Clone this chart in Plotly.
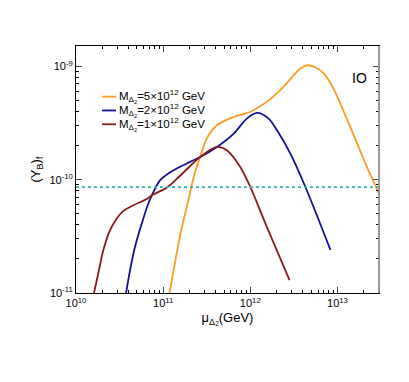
import numpy as np
import plotly.graph_objects as go

# log10 values
mu_5 = [11.00, 11.072, 11.195, 11.29, 11.36, 11.425, 11.50, 11.617, 11.81, 12.0, 12.21, 12.38, 12.575, 12.66, 12.75, 12.84, 12.95, 13.15, 13.34, 13.48]
yb_5 = [-11.26, -11.0, -10.49, -10.18, -9.95, -9.80, -9.637, -9.52, -9.447, -9.40, -9.30, -9.18, -9.018, -8.99, -9.01, -9.06, -9.19, -9.54, -9.89, -10.13]

mu_2 = [10.56, 10.575, 10.62, 10.678, 10.755, 10.83, 10.889, 10.966, 11.10, 11.31, 11.425, 11.617, 11.81, 11.96, 12.077, 12.21, 12.307, 12.46, 12.63, 12.92]
yb_2 = [-11.08, -11.0, -10.80, -10.59, -10.386, -10.21, -10.107, -10.004, -9.925, -9.843, -9.80, -9.711, -9.593, -9.461, -9.411, -9.461, -9.564, -9.77, -10.06, -10.62]

mu_1 = [10.19, 10.207, 10.256, 10.314, 10.391, 10.468, 10.544, 10.659, 10.813, 10.87, 11.04, 11.195, 11.425, 11.617, 11.73, 11.885, 12.0, 12.19, 12.45]
yb_1 = [-11.08, -11.0, -10.826, -10.621, -10.445, -10.342, -10.275, -10.225, -10.170, -10.137, -10.072, -9.965, -9.80, -9.711, -9.74, -9.887, -10.063, -10.416, -10.886]

yb_obs = 8.6e-11

labels = ["M<sub>Δ<sub>2</sub></sub>=5×10<sup>12</sup> GeV",
          "M<sub>Δ<sub>2</sub></sub>=2×10<sup>12</sup> GeV",
          "M<sub>Δ<sub>2</sub></sub>=1×10<sup>12</sup> GeV"]
colors = ["#FF9922", "#101099", "#8B1A1A"]

fig = go.Figure()

for mu, yb, c in zip([mu_5, mu_2, mu_1], [yb_5, yb_2, yb_1], colors):
    fig.add_trace(go.Scatter(x=10 ** np.array(mu), y=10 ** np.array(yb), mode="lines",
                             line=dict(color=c, width=1.8, shape="spline", smoothing=0.9),
                             showlegend=False))

fig.add_trace(go.Scatter(x=[1e10, 3e13], y=[yb_obs, yb_obs], mode="lines",
                         line=dict(color="#2AB5B0", width=1.8, dash="dot"), showlegend=False))

# hand-made legend
for i, (lab, c) in enumerate(zip(labels, colors)):
    yy = 0.795 - i * 0.056
    fig.add_shape(type="line", xref="paper", yref="paper", x0=0.086, x1=0.132, y0=yy, y1=yy,
                  line=dict(color=c, width=1.8))
    fig.add_annotation(xref="paper", yref="paper", x=0.136, y=yy, text=lab, showarrow=False,
                       xanchor="left", yanchor="middle", font=dict(size=11.5, color="black"))

fig.add_annotation(xref="paper", yref="paper", x=0.936, y=0.872, text="IO", showarrow=False,
                   xanchor="center", yanchor="middle", font=dict(size=14, color="black"))

# grey right frame edge as in the original
fig.add_shape(type="line", xref="paper", yref="paper", x0=1, x1=1, y0=0, y1=1,
              line=dict(color="#999999", width=2))

xmaj = [1e10, 1e11, 1e12, 1e13]
xlab = ["10<sup>10</sup>", "10<sup>11</sup>", "10<sup>12</sup>", "10<sup>13</sup>"]
ymaj = [1e-11, 1e-10, 1e-9]
ylab = ["10<sup>-11</sup>", "10<sup>-10</sup>", "10<sup>-9</sup>"]
xmin = [m * 10 ** k for k in range(10, 14) for m in range(2, 10)]
ymin = [m * 10 ** k for k in range(-11, -8) for m in range(2, 10)]

fig.update_xaxes(type="log", range=[10, np.log10(3e13)], tickvals=xmaj, ticktext=xlab,
                 ticks="inside", ticklen=6, showline=True, linecolor="black", linewidth=1,
                 mirror="ticks", showgrid=False, zeroline=False,
                 minor=dict(tickvals=xmin, ticks="inside", ticklen=3, tickcolor="black"),
                 title=dict(text="μ<sub>Δ<sub>2</sub></sub>(GeV)", standoff=4, font=dict(size=13)))
fig.update_yaxes(type="log", range=[-11, -8.82], tickvals=ymaj, ticktext=ylab,
                 ticks="inside", ticklen=6, showline=True, linecolor="black", linewidth=1,
                 mirror="ticks", showgrid=False, zeroline=False,
                 minor=dict(tickvals=ymin, ticks="inside", ticklen=3, tickcolor="black"),
                 title=dict(text="(Y<sub>B</sub>)<sub>f</sub>", standoff=5, font=dict(size=13)))

# page body adds an 8px margin, so margins are offset by it
fig.update_layout(width=409, height=382, margin=dict(l=68, r=38, t=38, b=97),
                  plot_bgcolor="white", paper_bgcolor="white",
                  font=dict(family="Liberation Sans, Arial, sans-serif", size=11, color="black"))

fig.write_html("out.html")
